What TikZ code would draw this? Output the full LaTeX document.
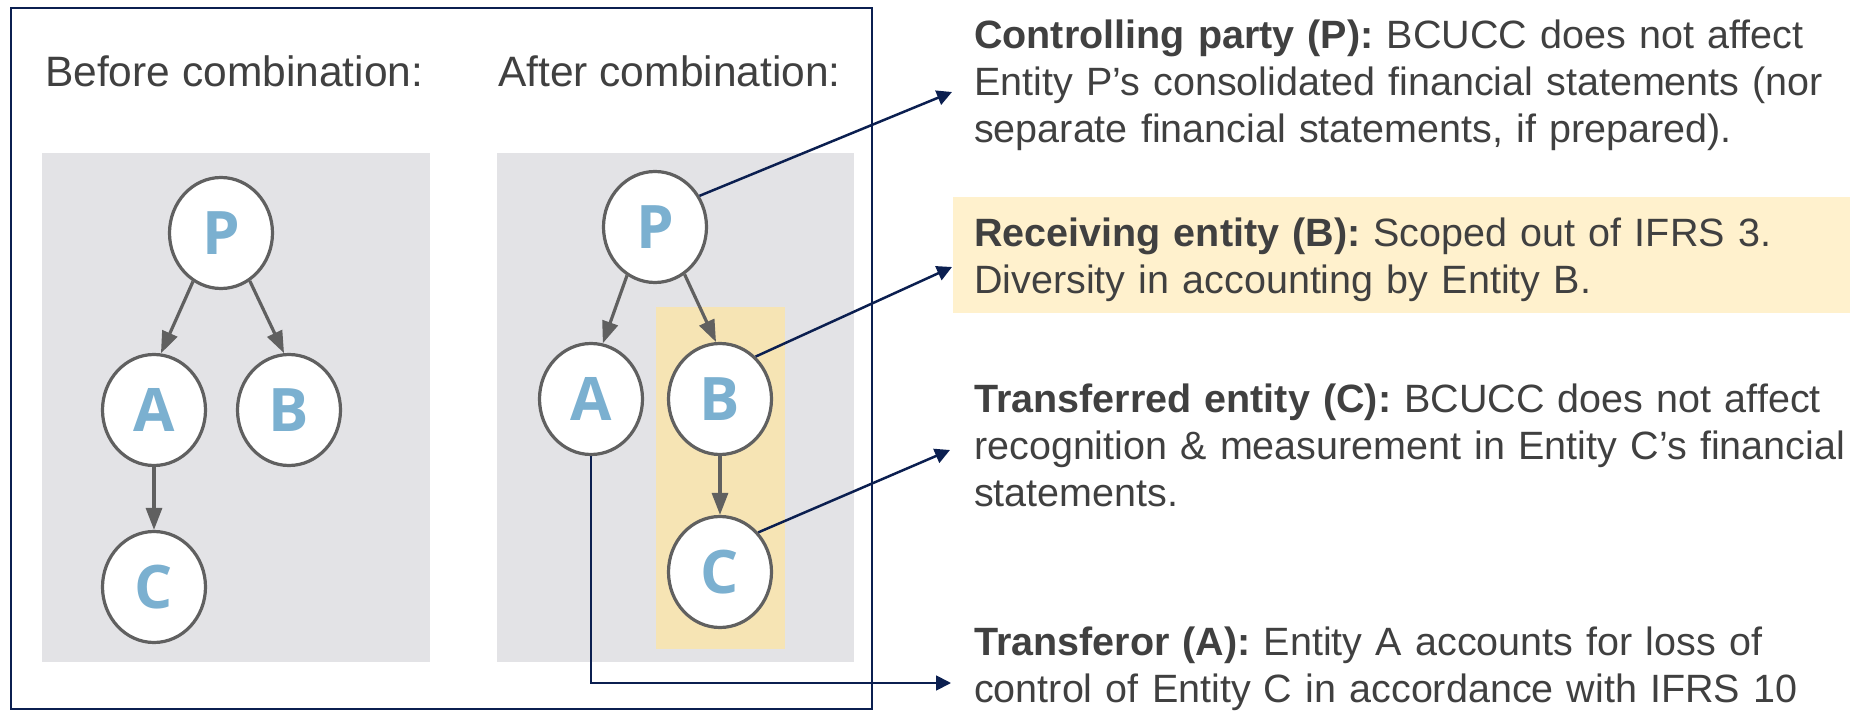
\documentclass[tikz,border=0pt]{standalone}
\usepackage{fontspec}
\setmainfont{Liberation Sans}
\newfontfamily\letterfont{Open Sans}
\usetikzlibrary{arrows.meta,shapes.geometric}

\definecolor{navy}{HTML}{0B1F50}
\definecolor{panelgray}{HTML}{E3E3E6}
\definecolor{tan}{HTML}{F6E4B4}
\definecolor{noteyellow}{HTML}{FFF1CD}
\definecolor{ringgray}{HTML}{606060}
\definecolor{letterblue}{HTML}{7BB0D0}
\definecolor{textgray}{HTML}{404040}

\tikzset{
  entity/.style={ellipse, draw=ringgray, line width=3.2pt, fill=white,
    minimum width=103pt, minimum height=111pt, inner sep=0pt,
    font={\letterfont\bfseries\fontsize{60}{60}\selectfont}, text=letterblue},
  owns/.style={draw=ringgray, line width=3.2pt,
    -{Triangle[length=22pt,width=16pt]}},
  pointer/.style={draw=navy, line width=2.5pt,
    -{Triangle[length=15pt,width=15pt]}},
  heading/.style={anchor=base west, inner sep=0pt, text=textgray,
    font={\fontsize{42.5}{50}\selectfont}},
  note/.style={anchor=base west, inner sep=0pt, text=textgray,
    text width=900pt, align=left,
    font={\fontsize{39.5}{47}\selectfont\hyphenpenalty=10000}},
}

\begin{document}
\begin{tikzpicture}[x=1pt,y=-1pt]
\useasboundingbox (0,0) rectangle (1850,711);

% outer frame around both group structures
\draw[navy, line width=2.5pt] (11,8) rectangle (872,709);

% background panels
\fill[panelgray] (42,153) rectangle (430,662);
\fill[panelgray] (497,153) rectangle (854,662);
\fill[tan] (656,307) rectangle (785,649);

% highlighted note
\fill[noteyellow] (953,197) rectangle (1850,313);

% headings
\node[heading] (before) at (45,87) {Before combination:};
\node[heading] (after) at (498,87) {After combination:};

% group before combination
\node[entity] (Pl) at (221,233) {P};
\node[entity] (Al) at (154,410) {A};
\node[entity] (Bl) at (289,410) {B};
\node[entity] (Cl) at (154,587) {C};

\draw[owns] (Pl.240) -- (Al.83);
\draw[owns] (Pl.301) -- (Bl.95);
\draw[owns] (Al.south) -- (Cl.north);

% group after combination
\node[entity] (Pr) at (655,227) {P};
\node[entity] (Ar) at (591,399) {A};
\node[entity] (Br) at (720,399) {B};
\node[entity] (Cr) at (720,572) {C};

\draw[owns] (Pr.240) -- (Ar.78);
\draw[owns] (Pr.302) -- (Br.94);
\draw[owns] (Br.south) -- (Cr.north);

% explanatory notes
\node[note] (nP) at (974,49) {\textbf{Controlling party (P):} BCUCC does not affect\\
Entity P’s consolidated financial statements (nor\\
separate financial statements, if prepared).};
\node[note] (nB) at (974,247) {\textbf{Receiving entity (B):} Scoped out of IFRS 3.\\
Diversity in accounting by Entity B.};
\node[note] (nC) at (974,412) {\textbf{Transferred entity (C):} BCUCC does not affect\\
recognition \& measurement in Entity C’s financial\\
statements.};
\node[note] (nA) at (974,655) {\textbf{Transferor (A):} Entity A accounts for loss of\\
control of Entity C in accordance with IFRS 10};

% pointers from entities to notes
\coordinate (tipP) at (952,92);
\coordinate (tipB) at (952,267);
\coordinate (tipC) at (950,450);
\coordinate (tipA) at (951,683);

\draw[pointer] (Pr.35) -- (tipP);
\draw[pointer] (Br.50) -- (tipB);
\draw[pointer] (Cr.46) -- (tipC);
\draw[pointer, line width=1.8pt] (Ar.south) |- (tipA);
\end{tikzpicture}
\end{document}
